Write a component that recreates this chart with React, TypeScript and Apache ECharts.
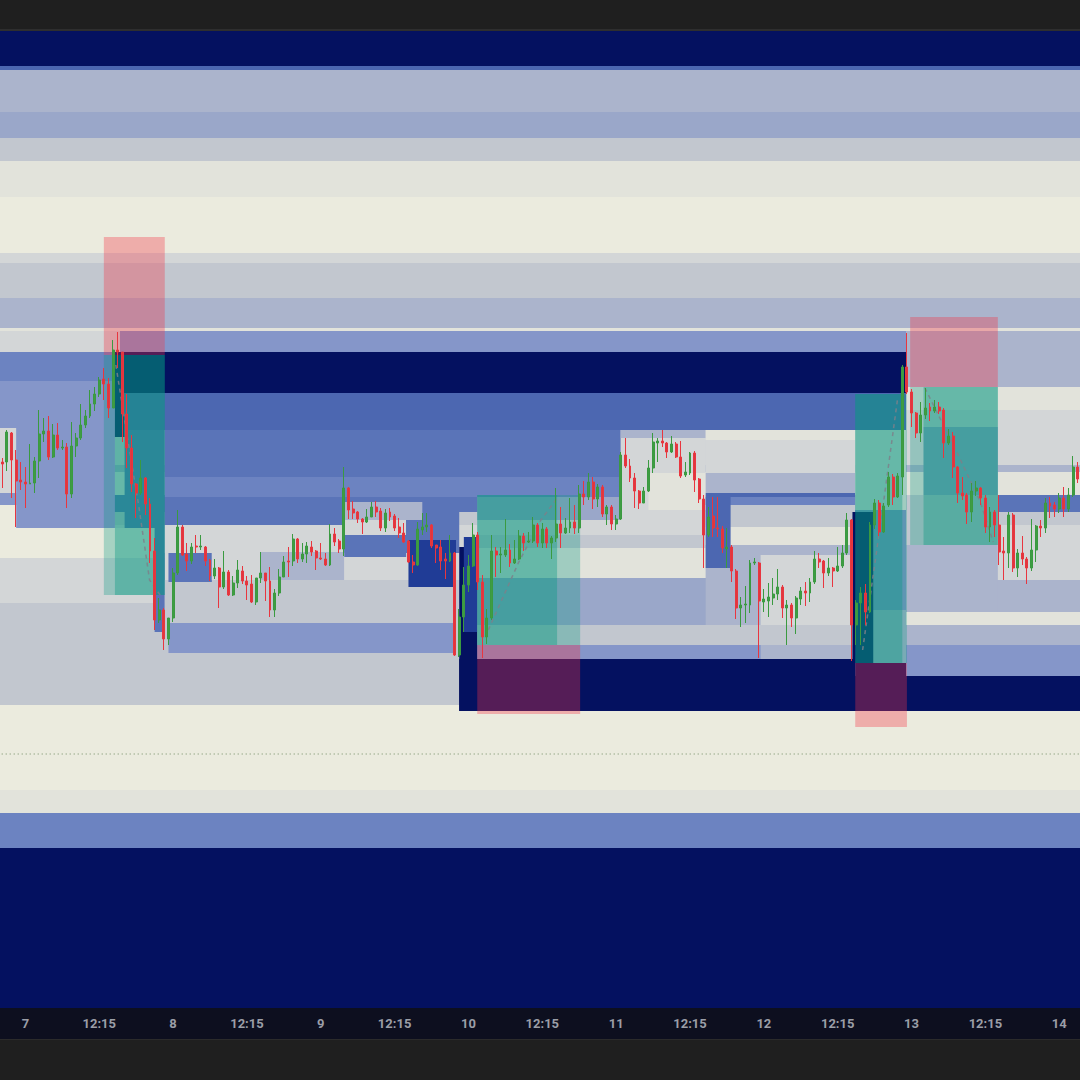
import React, { useEffect, useRef } from "react";
import * as echarts from "echarts";

// OHLC per session: [open, close, low, high]
const day6Tail = [
  [546, 544, 520, 550], [546, 576, 537, 578], [575, 548, 510, 576], [548, 527, 481, 558], [528, 526, 518, 546],
];
const day7 = [
  [526, 524, 500, 541], [524, 525, 524, 564], [525, 547, 515, 551], [547, 574, 530, 598], [574, 577, 566, 590],
  [577, 551, 548, 592], [551, 573, 550, 584], [573, 560, 558, 585], [560, 561, 558, 568], [561, 514, 500, 565],
  [514, 562, 510, 586], [562, 570, 551, 575], [570, 583, 568, 604], [583, 592, 580, 598], [592, 604, 590, 618],
  [604, 614, 597, 621], [614, 628, 611, 631], [629, 624, 608, 640], [624, 600, 590, 630], [600, 658, 600, 668],
  [658, 656, 640, 676], [656, 594, 566, 656], [594, 560, 540, 614], [560, 524, 516, 573], [524, 515, 490, 525],
  [515, 530, 513, 548], [530, 504, 493, 531], [504, 457, 445, 510], [457, 388, 378, 470], [388, 398, 385, 410],
  [398, 369, 358, 400], [369, 390, 363, 390],
];
const day8 = [
  [390, 435, 386, 440], [435, 481, 433, 498], [481, 453, 452, 483], [454, 447, 437, 465], [447, 461, 444, 465],
  [462, 461, 455, 473], [461, 462, 458, 473], [461, 447, 442, 462], [448, 432, 427, 449], [432, 440, 429, 449],
  [440, 421, 400, 441], [421, 436, 419, 457], [436, 413, 412, 438], [413, 425, 412, 432], [425, 438, 420, 448],
  [437, 427, 424, 442], [427, 423, 408, 432], [424, 406, 405, 433], [406, 430, 403, 430], [430, 435, 425, 456],
  [435, 427, 407, 435], [427, 398, 391, 441], [398, 415, 391, 419], [415, 431, 412, 439], [431, 446, 431, 452],
  [447, 446, 431, 461], [447, 469, 442, 474], [469, 449, 445, 470], [449, 454, 446, 465], [454, 462, 445, 466],
  [461, 456, 452, 467], [457, 450, 438, 458],
];
const day9 = [
  [450, 449, 448, 465], [449, 443, 442, 455], [443, 474, 442, 484], [474, 466, 462, 480], [467, 459, 455, 469],
  [459, 520, 452, 541], [520, 498, 489, 521], [499, 495, 489, 507], [496, 489, 485, 497], [489, 486, 474, 490],
  [486, 491, 485, 499], [491, 501, 491, 506], [501, 496, 491, 507], [497, 480, 477, 500], [480, 495, 476, 499],
  [496, 491, 487, 500], [492, 480, 477, 494], [481, 475, 470, 490], [475, 466, 465, 485], [467, 446, 445, 468],
  [446, 443, 435, 453], [443, 479, 442, 486], [478, 481, 473, 495], [481, 483, 476, 495], [483, 462, 460, 484],
  [463, 460, 445, 463], [461, 447, 438, 468], [449, 447, 429, 455], [447, 455, 446, 473], [455, 353, 352, 456],
  [353, 391, 351, 399], [391, 423, 376, 441],
];
const day10 = [
  [423, 442, 416, 453], [442, 473, 441, 485], [473, 426, 418, 476], [426, 371, 350, 433], [371, 390, 364, 399],
  [390, 457, 388, 473], [457, 453, 431, 461], [453, 454, 435, 461], [453, 458, 451, 489], [458, 445, 441, 464],
  [445, 449, 444, 468], [449, 472, 448, 478], [472, 465, 457, 475], [466, 467, 465, 476], [467, 483, 465, 491],
  [483, 465, 461, 485], [465, 479, 460, 485], [479, 465, 460, 481], [465, 470, 449, 472], [470, 484, 466, 520],
  [484, 475, 460, 501], [475, 480, 474, 490], [480, 486, 475, 510], [486, 480, 474, 503], [480, 514, 475, 523],
  [514, 511, 503, 527], [511, 526, 508, 535], [526, 509, 499, 531], [509, 521, 501, 524], [521, 494, 491, 523],
  [494, 501, 483, 503], [501, 484, 478, 503],
];
const day11 = [
  [484, 489, 478, 493], [489, 553, 488, 556], [553, 542, 540, 570], [542, 530, 526, 549], [530, 517, 500, 535],
  [517, 505, 499, 518], [505, 517, 505, 521], [517, 540, 516, 548], [540, 566, 535, 575], [565, 567, 546, 570],
  [567, 565, 561, 578], [565, 556, 550, 566], [556, 564, 555, 572], [564, 551, 550, 566], [551, 532, 530, 567],
  [533, 536, 531, 546], [535, 555, 533, 556], [555, 528, 516, 557], [529, 509, 505, 530], [509, 473, 440, 513],
  [473, 491, 471, 501], [492, 480, 471, 511], [480, 479, 471, 511], [479, 460, 455, 482], [459, 461, 440, 480],
  [461, 437, 426, 463], [437, 400, 389, 439], [400, 403, 381, 411], [403, 404, 385, 422], [403, 445, 395, 448],
  [445, 446, 443, 450], [445, 407, 350, 446],
];
const day12 = [
  [406, 409, 396, 419], [407, 411, 391, 425], [410, 414, 403, 430], [414, 421, 408, 439], [421, 400, 390, 423],
  [400, 403, 363, 408], [403, 390, 381, 405], [390, 410, 374, 412], [409, 417, 403, 421], [417, 415, 402, 426],
  [415, 426, 406, 430], [426, 449, 424, 457], [449, 446, 440, 455], [447, 435, 420, 448], [435, 440, 432, 450],
  [440, 437, 421, 441], [437, 442, 436, 461], [442, 455, 440, 463], [455, 488, 453, 495], [488, 383, 347, 489],
  [383, 405, 363, 408], [405, 415, 363, 421], [415, 396, 383, 424], [396, 483, 395, 486], [483, 505, 479, 509],
  [505, 476, 472, 508], [476, 502, 475, 505], [503, 531, 501, 536], [531, 511, 503, 534], [511, 532, 510, 535],
  [531, 641, 513, 643], [641, 616, 614, 675],
];
const day13 = [
  [616, 595, 581, 619], [595, 575, 570, 596], [575, 593, 566, 606], [593, 600, 589, 620], [601, 597, 587, 605],
  [597, 601, 595, 608], [601, 597, 594, 606], [598, 565, 550, 600], [565, 572, 563, 579], [572, 541, 530, 576],
  [541, 515, 505, 542], [515, 512, 508, 531], [513, 496, 484, 515], [496, 517, 486, 525], [517, 520, 512, 527],
  [520, 510, 503, 521], [510, 481, 475, 513], [481, 496, 466, 501], [496, 483, 471, 498], [483, 456, 443, 513],
  [457, 455, 428, 471], [455, 493, 440, 496], [493, 440, 436, 495], [440, 455, 431, 459], [455, 449, 443, 472],
  [449, 440, 424, 451], [440, 458, 437, 489], [458, 482, 446, 483], [482, 480, 471, 488], [480, 505, 475, 510],
  [505, 502, 490, 511], [503, 499, 491, 506],
];
const day14 = [
  [499, 510, 495, 515], [510, 499, 491, 521], [499, 513, 496, 520], [513, 541, 511, 552], [541, 529, 525, 546],
];

// heat levels of the volume-profile zones
const palette = [
  "#ebebde", "#e2e3db", "#d3d6d7", "#c2c7cf", "#abb4cc", "#9aa7c9",
  "#8596c9", "#6c83c1", "#5a74b8", "#4c67b1", "#203c96", "#041160",
];

// full-width zones: [low, high, level]
const baseZones = [
  [942, 977, 11], [938, 942, 9], [896, 938, 4], [870, 896, 5], [847, 870, 3], [811, 847, 1],
  [755, 811, 0], [745, 755, 2], [710, 745, 3], [680, 710, 4], [677, 680, 1], [621, 677, 4],
  [598, 621, 1], [543, 598, 2], [536, 543, 4], [513, 536, 1], [496, 513, 8], [483, 496, 3],
  [428, 483, 2], [396, 428, 4], [383, 396, 1], [363, 383, 4], [332, 363, 6], [297, 332, 11],
  [218, 297, 0], [195, 218, 1], [160, 195, 7], [0, 160, 11],
];

// session zones: [fromBar, toBar, low, high, level]
const sessionZones = [
  [-1, 25.5, 656, 677, 2], [-1, 24.4, 627, 656, 7], [-1, 24.4, 480, 627, 6], [-1, 3, 515, 580, 2],
  [-1, 3, 480, 503, 0], [-1, 35.2, 450, 480, 0], [-1, 35.2, 405, 450, 2], [-1, 102.9, 303, 405, 3],
  [-1, 102.9, 297, 303, 0],
  [25.5, 195.8, 656, 677, 6], [24.4, 195.8, 615, 656, 11], [24.4, 26.5, 571, 615, 11],
  [26.5, 195.8, 578, 615, 9], [26.5, 35.2, 480, 578, 8], [33, 35.2, 376, 480, 8],
  [35.2, 134, 531, 578, 8], [35.2, 134, 511, 531, 7], [35.2, 99, 483, 511, 8],
  [35.2, 74.1, 455, 483, 2], [74.1, 99, 455, 483, 8], [35.2, 99, 385, 428, 3],
  [36, 45.4, 426, 455, 8], [45.4, 56, 428, 455, 2], [56, 74.1, 428, 456, 4],
  [74.1, 87.5, 451, 473, 8], [74.1, 87.5, 428, 451, 2], [74.1, 91, 488, 506, 4],
  [74.1, 87.5, 473, 488, 2], [87.5, 98.3, 468, 488, 8], [36, 98.3, 355, 385, 6],
  [88, 98.3, 421, 468, 10], [99, 184.8, 297, 349, 11], [99, 103, 297, 461, 11], [100, 103, 376, 471, 10],
  [102.9, 152.4, 488, 511, 5], [102.9, 152.4, 473, 488, 2], [102.9, 152.4, 460, 473, 3],
  [102.9, 152.4, 430, 460, 1], [102.9, 164.3, 383, 430, 5], [102.9, 164.3, 363, 383, 3],
  [102.9, 164.3, 349, 363, 6], [134, 152.4, 488, 578, 2], [134, 152.4, 570, 578, 4], [140, 152.4, 498, 535, 1],
  [152.4, 184.8, 568, 578, 1], [152.4, 184.8, 535, 568, 2], [152.4, 184.8, 515, 535, 4],
  [152.4, 184.8, 511, 515, 9], [152.4, 184.8, 503, 511, 7], [152.4, 184.8, 481, 503, 3],
  [152.4, 184.8, 463, 481, 1], [152.4, 184.8, 383, 463, 4], [164.3, 183.7, 380, 453, 2],
  [152.4, 157.8, 440, 511, 9], [152.4, 184.8, 363, 383, 3], [164.3, 184.8, 349, 363, 4],
  [184.8, 195.8, 498, 578, 1], [184.8, 195.8, 398, 498, 6], [184.8, 195.8, 345, 398, 4],
  [184.2, 188.7, 345, 496, 11], [184.8, 195.8, 297, 345, 11],
  [195.8, 215.7, 463, 513, 3], [199.6, 215.7, 513, 581, 5], [195.8, 215.7, 396, 463, 4],
];

// long / short position tools
const posStart = [22.0, 102.9, 184.8, 196.7];
const posEnd = [35.2, 125.2, 196.0, 215.7];
const posEntry = [653, 363, 345, 621];
const posStop = [771, 294, 281, 691];
const posTarget = [413, 513, 614, 463];
const tradeStart = [24.4, 102.9, 184.8, 199.6];
const tradeEnd = [35.2, 120.2, 195.0, 215.7];

// trade paths (dashed)
const path1 = [[24.6, 643], [26.5, 588], [29.6, 501], [31.9, 428], [34.5, 411]];
const path2 = [[105.3, 378], [111.8, 445], [116.7, 488], [120.4, 511]];
const path3 = [[186.4, 358], [191.0, 508], [194.0, 610]];
const path4 = [[199.9, 620], [206.9, 555], [211.9, 506], [214.7, 466]];

const levelLine = 254;

const candles = [...day6Tail, ...day7, ...day8, ...day9, ...day10, ...day11, ...day12, ...day13, ...day14];

const categories: string[] = candles.map((_, i) => {
  const day = i < 5 ? 6 : 7 + Math.floor((i - 5) / 32);
  const slot = i < 5 ? 27 + i : (i - 5) % 32;
  const m = 8 * 60 + 15 + slot * 15;
  const hh = String(Math.floor(m / 60)).padStart(2, "0");
  const mm = String(m % 60).padStart(2, "0");
  return `${day} ${hh}:${mm}`;
});

const rectItem = (params: any, api: any, fill: string) => {
  const p0 = api.coord([api.value(0), api.value(3)]);
  const p1 = api.coord([api.value(1), api.value(2)]);
  return {
    type: "rect",
    shape: { x: p0[0], y: p0[1], width: p1[0] - p0[0], height: p1[1] - p0[1] },
    style: { fill },
  };
};

export default function App() {
  const ref = useRef<HTMLDivElement>(null);
  useEffect(() => {
    const chart = echarts.init(ref.current!, null, { renderer: "svg" });
    const base = baseZones.map((z) => [-1, 234, z[0], z[1], z[2]]);
    const posData: number[][] = [];
    for (let k = 0; k < posStart.length; k++) {
      posData.push([posStart[k], posEnd[k], Math.min(posEntry[k], posStop[k]), Math.max(posEntry[k], posStop[k]), 0]);
      posData.push([posStart[k], posEnd[k], Math.min(posEntry[k], posTarget[k]), Math.max(posEntry[k], posTarget[k]), 1]);
      posData.push([tradeStart[k], tradeEnd[k], Math.min(posEntry[k], posTarget[k]), Math.max(posEntry[k], posTarget[k]), 2]);
    }
    const posColors = ["rgba(242,54,69,0.34)", "rgba(8,153,129,0.30)", "rgba(8,153,129,0.38)"];
    const pathSeries = [path1, path2, path3, path4].map((p) => ({
      type: "line",
      xAxisIndex: 1,
      yAxisIndex: 0,
      data: p,
      symbol: "none",
      z: 4,
      lineStyle: { color: "rgba(125,128,138,0.85)", width: 1.5, type: [4, 4] },
      silent: true,
    }));
    chart.setOption({
      animation: false,
      backgroundColor: "#0d0f1f",
      grid: { left: 0, right: 0, top: 31, bottom: 72 },
      xAxis: [
        {
          type: "category",
          data: categories,
          axisLine: { show: false },
          axisTick: { show: false },
          splitLine: { show: false },
          axisLabel: {
            interval: (index: number) => index >= 5 && (index - 5) % 16 === 0,
            formatter: (value: string) => {
              const [d, t] = value.split(" ");
              return t === "08:15" ? d : t;
            },
            color: "#9b9ea7",
            fontSize: 13,
            fontWeight: "bold",
            fontFamily: "Roboto, 'Liberation Sans', sans-serif",
            margin: 9,
          },
        },
        { type: "value", min: -0.5, max: 233.5, show: false },
      ],
      yAxis: { type: "value", min: 0, max: 977, show: false, splitLine: { show: false } },
      graphic: [
        { type: "rect", shape: { x: 0, y: 0, width: 1080, height: 29 }, style: { fill: "#1f1f1f" } },
        { type: "rect", shape: { x: 0, y: 29, width: 1080, height: 2 }, style: { fill: "#2e2e2e" } },
        { type: "rect", shape: { x: 0, y: 1039, width: 1080, height: 1 }, style: { fill: "#2b2b2b" } },
        { type: "rect", shape: { x: 0, y: 1040, width: 1080, height: 40 }, style: { fill: "#1f1f1f" } },
      ],
      series: [
        {
          type: "custom",
          xAxisIndex: 1,
          yAxisIndex: 0,
          data: base,
          clip: true,
          z: 1,
          silent: true,
          renderItem: (p: any, api: any) => rectItem(p, api, palette[api.value(4)]),
        },
        {
          type: "custom",
          xAxisIndex: 1,
          yAxisIndex: 0,
          data: sessionZones,
          clip: true,
          z: 1,
          silent: true,
          renderItem: (p: any, api: any) => rectItem(p, api, palette[api.value(4)]),
        },
        {
          type: "line",
          xAxisIndex: 1,
          yAxisIndex: 0,
          data: [[-1, levelLine], [234, levelLine]],
          symbol: "none",
          z: 2,
          lineStyle: { color: "#6f8a62", width: 1, type: [1, 3] },
          silent: true,
        },
        {
          type: "custom",
          xAxisIndex: 1,
          yAxisIndex: 0,
          data: posData,
          clip: true,
          z: 3,
          silent: true,
          renderItem: (p: any, api: any) => rectItem(p, api, posColors[api.value(4)]),
        },
        ...pathSeries,
        {
          type: "candlestick",
          xAxisIndex: 0,
          yAxisIndex: 0,
          data: candles,
          barWidth: 2.4,
          z: 5,
          itemStyle: {
            color: "#3f9c43",
            color0: "#e0363d",
            borderColor: "#3a9a40",
            borderColor0: "#e8363f",
            borderWidth: 1,
          },
        },
      ],
    });
    return () => chart.dispose();
  }, []);
  return <div ref={ref} style={{ position: "fixed", left: 0, top: 0, width: 1080, height: 1080 }} />;
}
